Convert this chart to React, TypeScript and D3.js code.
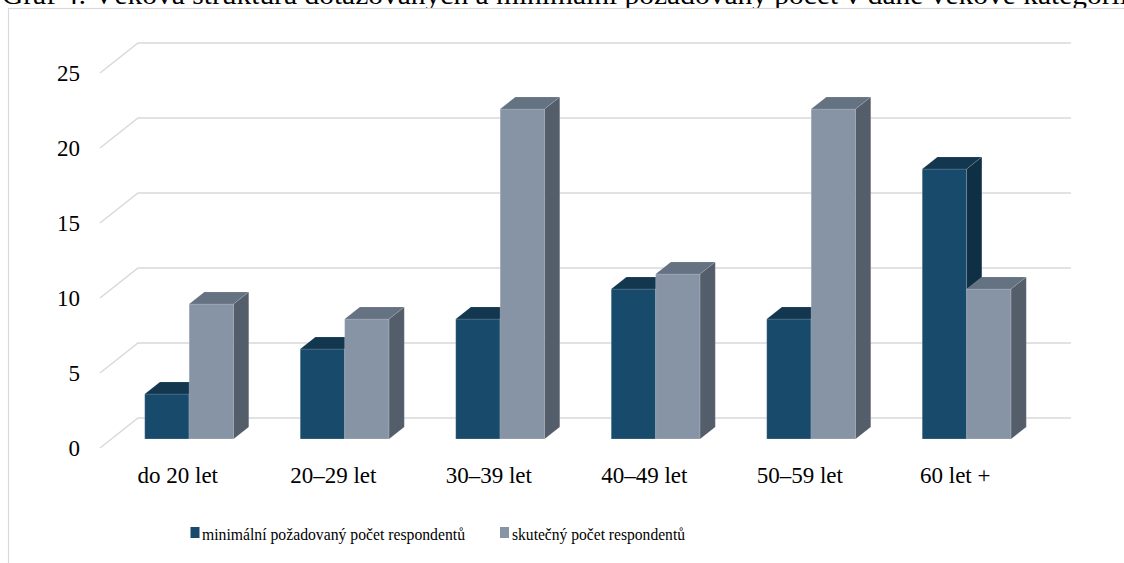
import React from "react";
import * as d3 from "d3";

const categories = ["do 20 let", "20–29 let", "30–39 let", "40–49 let", "50–59 let", "60 let +"];
const seriesNames = ["minimální požadovaný počet respondentů", "skutečný počet respondentů"];
const minimalni = [3, 6, 8, 10, 8, 18];
const skutecny = [9, 8, 22, 11, 22, 10];
const yTicks = [0, 5, 10, 15, 20, 25];
const title = "Graf 4: Věková struktura dotazovaných a minimální požadovaný počet v dané věkové kategorii";

const W = 1124;
const H = 563;
const FONT = "'Liberation Serif', 'Times New Roman', serif";

const faces = [
  { front: "#184a6c", top: "#12374f", side: "#0f2f45" },
  { front: "#8694a6", top: "#657282", side: "#535e6a" },
];

// depth projection: full floor depth
const DX = 38;
const DY = -30;
const proj = (x: number, y: number, d: number): [number, number] => [x + DX * d, y + DY * d];

export default function App() {
  const x = d3.scaleBand<string>().domain(categories).range([100, 1033]).padding(0);
  const inner = d3
    .scaleBand<number>()
    .domain([0, 1])
    .range([0, x.bandwidth()])
    .paddingInner(0)
    .paddingOuter(0.75);
  const y = d3.scaleLinear().domain([0, 25]).range([448, 73]);

  const series = [minimalni, skutecny];
  const dFront = 0.3;
  const dBack = 0.7;

  const pts = (arr: [number, number][]) => arr.map((p) => p.join(",")).join(" ");

  const bars: JSX.Element[] = [];
  categories.forEach((c, ci) => {
    series.forEach((vals, si) => {
      const v = vals[ci];
      const x0 = (x(c) as number) + (inner(si) as number);
      const x1 = x0 + inner.bandwidth();
      const yv = y(v);
      const y0 = y(0);
      const f = faces[si];
      const front = pts([proj(x0, yv, dFront), proj(x1, yv, dFront), proj(x1, y0, dFront), proj(x0, y0, dFront)]);
      const top = pts([proj(x0, yv, dFront), proj(x1, yv, dFront), proj(x1, yv, dBack), proj(x0, yv, dBack)]);
      const side = pts([proj(x1, yv, dFront), proj(x1, y0, dFront), proj(x1, y0, dBack), proj(x1, yv, dBack)]);
      bars.push(
        <g key={`${ci}-${si}`}>
          <polygon points={front} fill={f.front} stroke="#ffffff" strokeOpacity={0.25} strokeWidth={0.8} />
          <polygon points={top} fill={f.top} stroke="#ffffff" strokeOpacity={0.15} strokeWidth={0.8} />
          <polygon points={side} fill={f.side} stroke="#ffffff" strokeOpacity={0.15} strokeWidth={0.8} />
        </g>
      );
    });
  });

  const [xl, xr] = x.range();

  return (
    <div style={{ position: "absolute", left: 0, top: 0 }}>
      <svg width={W} height={H} style={{ display: "block", background: "#ffffff" }}>
        <text
          x={2}
          y={4}
          fontFamily={FONT}
          fontSize={27}
          fill="#000"
          textLength={1126}
          lengthAdjust="spacingAndGlyphs"
        >
          {title}
        </text>
        <rect x={8.5} y={8.5} width={W + 20} height={H + 20} fill="#ffffff" stroke="#d9d9d9" strokeWidth={1.2} />

        {yTicks.map((t) => {
          const yf = y(t);
          const [bx, by] = proj(xl, yf, 1);
          const [ex] = proj(xr, yf, 1);
          return (
            <polyline
              key={t}
              points={pts([[xl, yf], [bx, by], [ex, by]])}
              fill="none"
              stroke="#d9d9d9"
              strokeWidth={1.5}
            />
          );
        })}

        {yTicks.map((t) => (
          <text key={t} x={80} y={y(t) + 8} textAnchor="end" fontFamily={FONT} fontSize={23} fill="#000">
            {t}
          </text>
        ))}

        {bars}

        {categories.map((c) => (
          <text
            key={c}
            x={(x(c) as number) + x.bandwidth() / 2}
            y={483}
            textAnchor="middle"
            fontFamily={FONT}
            fontSize={23}
            fill="#000"
          >
            {c}
          </text>
        ))}

        <g>
          <rect x={190.5} y={527} width={9} height={11} fill={faces[0].front} />
          <text x={202} y={540} fontFamily={FONT} fontSize={17} fill="#000" textLength={263} lengthAdjust="spacingAndGlyphs">
            {seriesNames[0]}
          </text>
          <rect x={500} y={527} width={9} height={11} fill={faces[1].front} />
          <text x={512} y={540} fontFamily={FONT} fontSize={17} fill="#000" textLength={173} lengthAdjust="spacingAndGlyphs">
            {seriesNames[1]}
          </text>
        </g>
      </svg>
    </div>
  );
}
